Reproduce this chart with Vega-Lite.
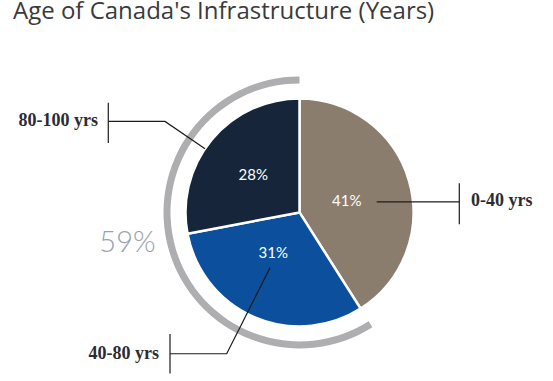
{
  "$schema": "https://vega.github.io/schema/vega-lite/v6.json",
  "width": 553,
  "height": 381,
  "padding": 0,
  "autosize": {"type": "fit", "contains": "padding"},
  "background": "white",
  "config": {"view": {"stroke": null}},
  "datasets": {
    "pie": [
      {"age": "0-40 yrs", "share": 41},
      {"age": "40-80 yrs", "share": 31},
      {"age": "80-100 yrs", "share": 28}
    ],
    "ring": [
      {"seg": "gap", "share": 41},
      {"seg": "ring", "share": 59}
    ],
    "callout": [
      {"g": "a", "i": 0, "x": -1.6772, "y": 0.8105},
      {"g": "a", "i": 1, "x": -1.1798, "y": 0.8105},
      {"g": "a", "i": 2, "x": -0.8289, "y": 0.5675},
      {"g": "at", "i": 0, "x": -1.6772, "y": 0.9772},
      {"g": "at", "i": 1, "x": -1.6772, "y": 0.6175},
      {"g": "b", "i": 0, "x": 0.6772, "y": 0.0939},
      {"g": "b", "i": 1, "x": 1.4018, "y": 0.0939},
      {"g": "bt", "i": 0, "x": 1.4018, "y": 0.2605},
      {"g": "bt", "i": 1, "x": 1.4018, "y": -0.1053},
      {"g": "c", "i": 0, "x": -1.136, "y": -1.2596},
      {"g": "c", "i": 1, "x": -0.6386, "y": -1.2596},
      {"g": "c", "i": 2, "x": -0.2588, "y": -0.4939},
      {"g": "ct", "i": 0, "x": -1.136, "y": -1.0842},
      {"g": "ct", "i": 1, "x": -1.136, "y": -1.4351}
    ],
    "labelsLeft": [
      {"label": "80-100 yrs", "x": -1.7675, "y": 0.7693},
      {"label": "40-80 yrs", "x": -1.2325, "y": -1.3096}
    ],
    "labelsRight": [
      {"label": "0-40 yrs", "x": 1.5044, "y": 0.0588}
    ],
    "pct": [
      {"label": "41%", "x": 0.414, "y": 0.1},
      {"label": "28%", "x": -0.4053, "y": 0.3333},
      {"label": "31%", "x": -0.2298, "y": -0.3596}
    ],
    "big": [
      {"label": "59%", "x": -1.5088, "y": -0.2746}
    ],
    "title": [
      {"label": "Age of Canada's Infrastructure (Years)", "x": -2.5132, "y": 1.7211}
    ]
  },
  "layer": [
    {
      "data": {"name": "pie"},
      "mark": {"type": "arc", "outerRadius": 114, "stroke": "white", "strokeWidth": 2.5},
      "encoding": {
        "theta": {"field": "share", "type": "quantitative", "stack": true},
        "color": {"field": "age", "type": "nominal", "scale": {"domain": ["0-40 yrs", "40-80 yrs", "80-100 yrs"], "range": ["#8a7d6d", "#0b4f9d", "#16253a"]}, "legend": null},
        "x": {"datum": 0, "type": "quantitative", "scale": {"domain": [-2.6272, 2.2237], "nice": false, "zero": false}, "axis": null},
        "y": {"datum": 0, "type": "quantitative", "scale": {"domain": [-1.5026, 1.8395], "nice": false, "zero": false}, "axis": null}
      }
    },
    {
      "data": {"name": "ring"},
      "mark": {"type": "arc", "innerRadius": 129, "outerRadius": 136},
      "encoding": {
        "theta": {"field": "share", "type": "quantitative", "stack": true},
        "fill": {"field": "seg", "type": "nominal", "scale": {"domain": ["gap", "ring"], "range": ["transparent", "#aeaeb1"]}, "legend": null},
        "x": {"datum": 0, "type": "quantitative", "scale": {"domain": [-2.6272, 2.2237], "nice": false, "zero": false}, "axis": null},
        "y": {"datum": 0, "type": "quantitative", "scale": {"domain": [-1.5026, 1.8395], "nice": false, "zero": false}, "axis": null}
      }
    },
    {
      "data": {"name": "callout"},
      "mark": {"type": "line", "color": "#1c1c1c", "strokeWidth": 1.2},
      "encoding": {
        "x": {"field": "x", "type": "quantitative", "scale": {"domain": [-2.6272, 2.2237], "nice": false, "zero": false}, "axis": null},
        "y": {"field": "y", "type": "quantitative", "scale": {"domain": [-1.5026, 1.8395], "nice": false, "zero": false}, "axis": null},
        "detail": {"field": "g", "type": "nominal"},
        "order": {"field": "i", "type": "quantitative"}
      }
    },
    {
      "data": {"name": "labelsLeft"},
      "mark": {"type": "text", "align": "right", "baseline": "alphabetic", "font": "Liberation Serif", "fontSize": 18, "fontWeight": "bold", "color": "#2b2b33"},
      "encoding": {
        "x": {"field": "x", "type": "quantitative", "scale": {"domain": [-2.6272, 2.2237], "nice": false, "zero": false}, "axis": null},
        "y": {"field": "y", "type": "quantitative", "scale": {"domain": [-1.5026, 1.8395], "nice": false, "zero": false}, "axis": null},
        "text": {"field": "label"}
      }
    },
    {
      "data": {"name": "labelsRight"},
      "mark": {"type": "text", "align": "left", "baseline": "alphabetic", "font": "Liberation Serif", "fontSize": 18, "fontWeight": "bold", "color": "#2b2b33"},
      "encoding": {
        "x": {"field": "x", "type": "quantitative", "scale": {"domain": [-2.6272, 2.2237], "nice": false, "zero": false}, "axis": null},
        "y": {"field": "y", "type": "quantitative", "scale": {"domain": [-1.5026, 1.8395], "nice": false, "zero": false}, "axis": null},
        "text": {"field": "label"}
      }
    },
    {
      "data": {"name": "pct"},
      "mark": {"type": "text", "align": "center", "baseline": "middle", "font": "Lato", "fontSize": 15, "color": "white"},
      "encoding": {
        "x": {"field": "x", "type": "quantitative", "scale": {"domain": [-2.6272, 2.2237], "nice": false, "zero": false}, "axis": null},
        "y": {"field": "y", "type": "quantitative", "scale": {"domain": [-1.5026, 1.8395], "nice": false, "zero": false}, "axis": null},
        "text": {"field": "label"}
      }
    },
    {
      "data": {"name": "big"},
      "mark": {"type": "text", "align": "center", "baseline": "middle", "font": "Lato", "fontSize": 29, "fontWeight": 300, "color": "#98a1aa"},
      "encoding": {
        "x": {"field": "x", "type": "quantitative", "scale": {"domain": [-2.6272, 2.2237], "nice": false, "zero": false}, "axis": null},
        "y": {"field": "y", "type": "quantitative", "scale": {"domain": [-1.5026, 1.8395], "nice": false, "zero": false}, "axis": null},
        "text": {"field": "label"}
      }
    },
    {
      "data": {"name": "title"},
      "mark": {"type": "text", "align": "left", "baseline": "alphabetic", "font": "Open Sans", "fontSize": 24, "color": "#3a3a3a"},
      "encoding": {
        "x": {"field": "x", "type": "quantitative", "scale": {"domain": [-2.6272, 2.2237], "nice": false, "zero": false}, "axis": null},
        "y": {"field": "y", "type": "quantitative", "scale": {"domain": [-1.5026, 1.8395], "nice": false, "zero": false}, "axis": null},
        "text": {"field": "label"}
      }
    }
  ]
}
